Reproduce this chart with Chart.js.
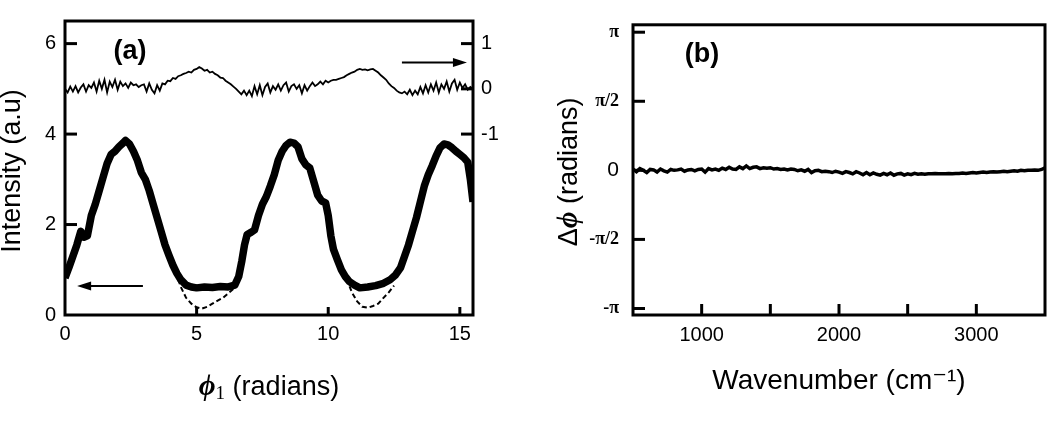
<!DOCTYPE html>
<html>
<head>
<meta charset="utf-8">
<script src="https://cdn.jsdelivr.net/npm/chart.js@4.4.1/dist/chart.umd.min.js"></script>
<style>
  html, body { margin: 0; padding: 0; background: #fff; }
  #wrap { position: relative; width: 1050px; height: 423px; overflow: hidden; background: #fff; }
  #wrap canvas { position: absolute; top: 0; }
  #chartA { left: 0; }
  #chartB { left: 525px; }
</style>
</head>
<body>
<div id="wrap">
  <canvas id="chartA" width="525" height="423"></canvas>
  <canvas id="chartB" width="525" height="423"></canvas>
</div>
<script>
// =========================
// DATA
// =========================

// (a) intensity vs phi1, thick curve
const phiIntensity = [
  0, 0.15, 0.3, 0.45, 0.6, 0.72, 0.85, 1.0, 1.15, 1.3, 1.45, 1.6, 1.75, 1.9, 2.05, 2.2, 2.3, 2.45, 2.6, 2.75,
  2.9, 3.05, 3.2, 3.35, 3.5, 3.65, 3.8, 3.95, 4.1, 4.25, 4.4, 4.6, 4.8, 5.0, 5.3, 5.6, 5.9, 6.2, 6.45, 6.6,
  6.72, 6.82, 6.92, 7.05, 7.2, 7.35, 7.5, 7.65, 7.8, 7.95, 8.1, 8.25, 8.4, 8.55, 8.7, 8.85, 9.0, 9.15, 9.3, 9.45,
  9.6, 9.75, 9.9, 10.0, 10.1, 10.2, 10.35, 10.5, 10.65, 10.8, 11.0, 11.2, 11.5, 11.8, 12.1, 12.35, 12.55, 12.75, 12.9, 13.05,
  13.2, 13.35, 13.5, 13.65, 13.8, 13.95, 14.1, 14.25, 14.4, 14.55, 14.7, 14.85, 15.0, 15.15, 15.3, 15.4, 15.5
];
const intensity = [
  0.82, 1.05, 1.3, 1.55, 1.85, 1.72, 1.75, 2.2, 2.45, 2.75, 3.05, 3.35, 3.55, 3.62, 3.72, 3.8, 3.86, 3.78, 3.62, 3.42,
  3.15, 3.0, 2.75, 2.45, 2.15, 1.85, 1.55, 1.32, 1.1, 0.92, 0.78, 0.66, 0.62, 0.6, 0.62, 0.61, 0.63, 0.62, 0.66, 0.85,
  1.2, 1.55, 1.78, 1.82, 1.88, 2.2, 2.45, 2.62, 2.85, 3.1, 3.42, 3.62, 3.75, 3.82, 3.8, 3.72, 3.45, 3.32, 3.25, 2.95,
  2.65, 2.52, 2.48, 2.2, 1.75, 1.45, 1.22, 1.0, 0.85, 0.74, 0.66, 0.6, 0.62, 0.65, 0.7, 0.78, 0.88, 1.05, 1.3, 1.55,
  1.85, 2.15, 2.5, 2.85, 3.1, 3.3, 3.52, 3.7, 3.78, 3.76, 3.7, 3.62, 3.55, 3.48, 3.38, 3.0, 2.5
];

// (a) dashed curve, only where it leaves the thick one
const phiDashed = [
  4.2, 4.4, 4.6, 4.8, 5.0, 5.2, 5.4, 5.6, 5.8, 6.0, 6.2, 6.4, 6.55, 8.5,
  10.7, 10.9, 11.1, 11.3, 11.5, 11.7, 11.9, 12.1, 12.3, 12.5
];
const intensityDashed = [
  0.95, 0.62, 0.38, 0.25, 0.17, 0.14, 0.18, 0.25, 0.32, 0.38, 0.48, 0.58, 0.72, null,
  0.8, 0.5, 0.3, 0.18, 0.16, 0.2, 0.25, 0.38, 0.5, 0.65
];

// (a) thin trace, right axis
const phiRatio = [
  0, 0.1, 0.2, 0.3, 0.4, 0.5, 0.6, 0.7, 0.8, 0.9,
  1, 1.1, 1.2, 1.3, 1.4, 1.5, 1.6, 1.7, 1.8, 1.9,
  2, 2.1, 2.2, 2.3, 2.4, 2.5, 2.6, 2.7, 2.8, 2.9,
  3, 3.1, 3.2, 3.3, 3.4, 3.5, 3.6, 3.7, 3.8, 3.9,
  4, 4.1, 4.2, 4.3, 4.4, 4.5, 4.6, 4.7, 4.8, 4.9,
  5, 5.1, 5.2, 5.3, 5.4, 5.5, 5.6, 5.7, 5.8, 5.9,
  6, 6.1, 6.2, 6.3, 6.4, 6.5, 6.6, 6.7, 6.8, 6.9,
  7, 7.1, 7.2, 7.3, 7.4, 7.5, 7.6, 7.7, 7.8, 7.9,
  8, 8.1, 8.2, 8.3, 8.4, 8.5, 8.6, 8.7, 8.8, 8.9,
  9, 9.1, 9.2, 9.3, 9.4, 9.5, 9.6, 9.7, 9.8, 9.9,
  10, 10.1, 10.2, 10.3, 10.4, 10.5, 10.6, 10.7, 10.8, 10.9,
  11, 11.1, 11.2, 11.3, 11.4, 11.5, 11.6, 11.7, 11.8, 11.9,
  12, 12.1, 12.2, 12.3, 12.4, 12.5, 12.6, 12.7, 12.8, 12.9,
  13, 13.1, 13.2, 13.3, 13.4, 13.5, 13.6, 13.7, 13.8, 13.9,
  14, 14.1, 14.2, 14.3, 14.4, 14.5, 14.6, 14.7, 14.8, 14.9,
  15, 15.1, 15.2, 15.3, 15.4, 15.5
];
const ratio = [
  0.0, -0.08, 0.05, -0.06, 0.06, -0.08, 0.03, 0.1, -0.06, 0.08,
  0.02, 0.14, -0.06, 0.18, 0.0, 0.2, -0.08, 0.16, 0.04, 0.2,
  -0.02, 0.16, 0.06, 0.12, 0.02, 0.14, 0.08, 0.1, 0.04, 0.08,
  0.1, -0.06, 0.12, -0.02, -0.1, 0.08, -0.04, 0.12, 0.1, 0.18,
  0.17, 0.24, 0.22, 0.28, 0.3, 0.33, 0.35, 0.38, 0.36, 0.42,
  0.44, 0.48, 0.45, 0.4, 0.42, 0.36, 0.38, 0.33, 0.3, 0.25,
  0.24, 0.18, 0.14, 0.1, 0.05, 0.0, -0.06, -0.12, -0.04, -0.14,
  -0.04, -0.16, 0.06, -0.12, 0.08, -0.14, 0.04, 0.12, -0.08, 0.06,
  -0.02, 0.1, -0.04, 0.08, 0.14, -0.06, 0.06, 0.1, 0.0, 0.08,
  -0.1, 0.08, -0.04, 0.06, 0.14, 0.06, 0.1, 0.16, 0.1, 0.18,
  0.14, 0.18, 0.2, 0.2, 0.22, 0.24, 0.26, 0.3, 0.33, 0.36,
  0.38, 0.42, 0.44, 0.42, 0.43, 0.41, 0.43, 0.44, 0.4, 0.36,
  0.3, 0.25, 0.2, 0.12, 0.06, 0.02, -0.04, -0.08, -0.1, -0.06,
  -0.12, -0.02, -0.14, -0.04, -0.12, 0.04, -0.1, 0.08, -0.08, 0.1,
  -0.04, 0.14, -0.08, 0.1, 0.0, 0.16, -0.06, 0.12, 0.2, -0.02,
  0.14, 0.02, 0.1, -0.02, 0.04, 0.0
];

// (b) phase difference vs wavenumber
const wavenumber = [
  500, 525, 550, 575, 600, 625, 650, 675, 700, 725,
  750, 775, 800, 825, 850, 875, 900, 925, 950, 975,
  1000, 1025, 1050, 1075, 1100, 1125, 1150, 1175, 1200, 1225,
  1250, 1275, 1300, 1325, 1350, 1375, 1400, 1425, 1450, 1475,
  1500, 1525, 1550, 1575, 1600, 1625, 1650, 1675, 1700, 1725,
  1750, 1775, 1800, 1825, 1850, 1875, 1900, 1925, 1950, 1975,
  2000, 2025, 2050, 2075, 2100, 2125, 2150, 2175, 2200, 2225,
  2250, 2275, 2300, 2325, 2350, 2375, 2400, 2425, 2450, 2475,
  2500, 2525, 2550, 2575, 2600, 2625, 2650, 2675, 2700, 2725,
  2750, 2775, 2800, 2825, 2850, 2875, 2900, 2925, 2950, 2975,
  3000, 3025, 3050, 3075, 3100, 3125, 3150, 3175, 3200, 3225,
  3250, 3275, 3300, 3325, 3350, 3375, 3400, 3425, 3450, 3475,
  3500
];
const deltaPhi = [
  0.03, -0.03, 0.04, 0.0, -0.05, 0.02, 0.01, -0.04, 0.03, -0.01,
  -0.04, 0.02, 0.0, 0.01, 0.03, -0.02, 0.01, 0.02, -0.01, 0.02,
  0.03, -0.04, 0.04, 0.01, 0.03, 0.0, 0.05, 0.02, 0.07, 0.03,
  0.02, 0.08, 0.04, 0.1, 0.04, 0.07, 0.08, 0.04, 0.06, 0.05,
  0.06, 0.03, 0.04, 0.02, 0.03, 0.01, 0.03, 0.02, -0.01, 0.01,
  -0.02, 0.02, -0.05, -0.01, 0.0, -0.03, -0.02, -0.03, -0.05, -0.02,
  -0.04, -0.07, -0.03, -0.05, -0.08, -0.03, -0.06, -0.1, -0.05, -0.1,
  -0.06, -0.09, -0.11, -0.07, -0.1, -0.06, -0.11, -0.08, -0.07, -0.11,
  -0.08, -0.1, -0.07, -0.09, -0.08, -0.09, -0.08, -0.08, -0.07, -0.08,
  -0.08, -0.08, -0.07, -0.08, -0.07, -0.07, -0.06, -0.07, -0.06, -0.05,
  -0.06, -0.05, -0.04, -0.05, -0.04, -0.03, -0.04, -0.03, -0.02, -0.03,
  -0.02, -0.01, -0.02, 0.0, -0.01, 0.0, 0.0, 0.01, 0.0, 0.02,
  0.06
];

// ticks
const xTicksA = [0, 5, 10, 15];
const yTicksA = [0, 2, 4, 6];
const y2TicksA = [-1, 0, 1];
const xTicksB = [1000, 1500, 2000, 2500, 3000];
const xLabelsB = [1000, 2000, 3000];
const yTicksB = [-Math.PI, -Math.PI / 2, 0, Math.PI / 2, Math.PI];
const yLabelsB = ["-π", "-π/2", "0", "π/2", "π"];

// =========================
// HELPERS
// =========================

const SANS = '"Liberation Sans", Arial, "DejaVu Sans", sans-serif';
const SERIF = '"Liberation Serif", "DejaVu Serif", serif';
const PHI_FONT = "bold italic 29px " + SERIF;
const TITLE_FONT = "27px " + SANS;

Chart.defaults.font.family = SANS;
Chart.defaults.color = "#000";

function pts(xs, ys) {
  return xs.map((x, i) => ({ x, y: ys[i] }));
}

function setTicks(values) {
  return (scale) => {
    scale.ticks = values.map((v) => ({ value: v }));
  };
}

function line(ctx, x1, y1, x2, y2) {
  ctx.beginPath();
  ctx.moveTo(x1, y1);
  ctx.lineTo(x2, y2);
  ctx.stroke();
}

function arrow(ctx, x1, y, x2) {
  const dir = x2 > x1 ? 1 : -1;
  ctx.lineWidth = 2;
  line(ctx, x1, y, x2 - dir * 10, y);
  ctx.beginPath();
  ctx.moveTo(x2, y);
  ctx.lineTo(x2 - dir * 14, y - 4.5);
  ctx.lineTo(x2 - dir * 14, y + 4.5);
  ctx.closePath();
  ctx.fill();
}

// text made of several runs with their own fonts, centred on (0,0) after the transform
function mixedText(ctx, parts) {
  let total = 0;
  parts.forEach((p) => {
    ctx.font = p.font;
    p.w = ctx.measureText(p.t).width;
    total += p.w;
  });
  let x = -total / 2;
  ctx.textAlign = "left";
  ctx.textBaseline = "alphabetic";
  parts.forEach((p) => {
    ctx.font = p.font;
    ctx.fillText(p.t, x, p.dy || 0);
    x += p.w;
  });
}

const noGrid = { display: false, drawTicks: false };
const noBorder = { display: false };

// =========================
// PANEL (a)
// =========================

const panelA = {
  id: "panelA",
  afterDatasetsDraw(chart) {
    const { ctx, chartArea: a } = chart;
    const { x, y, y2 } = chart.scales;
    ctx.save();
    ctx.strokeStyle = "#000";
    ctx.fillStyle = "#000";

    ctx.lineWidth = 3;
    yTicksA.forEach((v) => {
      if (v === 0) return;
      const py = y.getPixelForValue(v);
      line(ctx, a.left, py, a.left + 12, py);
    });
    y2TicksA.forEach((v) => {
      const py = y2.getPixelForValue(v);
      line(ctx, a.right - 12, py, a.right, py);
    });
    xTicksA.forEach((v) => {
      if (v === 0) return;
      const px = x.getPixelForValue(v);
      line(ctx, px, a.bottom, px, a.bottom - 8);
    });
    ctx.strokeRect(a.left, a.top, a.right - a.left, a.bottom - a.top);

    // arrows pointing to each axis
    arrow(ctx, x.getPixelForValue(2.96), y.getPixelForValue(0.64), x.getPixelForValue(0.46));
    arrow(ctx, x.getPixelForValue(12.8), y2.getPixelForValue(0.58), x.getPixelForValue(15.27));

    ctx.font = "bold 27px " + SANS;
    ctx.textAlign = "center";
    ctx.textBaseline = "middle";
    ctx.fillText("(a)", a.left + 65, a.top + 31);

    // y title
    ctx.save();
    ctx.translate(13, 171);
    ctx.rotate(-Math.PI / 2);
    ctx.font = TITLE_FONT;
    ctx.fillText("Intensity (a.u)", 0, 0);
    ctx.restore();

    // x title
    ctx.save();
    ctx.translate((a.left + a.right) / 2, 395);
    mixedText(ctx, [
      { t: "ϕ", font: PHI_FONT },
      { t: "1", font: "19px " + SERIF, dy: 4 },
      { t: " (radians)", font: TITLE_FONT },
    ]);
    ctx.restore();

    ctx.restore();
  },
};

new Chart(document.getElementById("chartA"), {
  type: "line",
  data: {
    datasets: [
      {
        data: pts(phiIntensity, intensity),
        yAxisID: "y",
        borderColor: "#000",
        borderWidth: 7.5,
        borderJoinStyle: "round",
        pointRadius: 0,
      },
      {
        data: pts(phiDashed, intensityDashed),
        yAxisID: "y",
        borderColor: "#000",
        borderWidth: 2,
        borderDash: [5, 3],
        spanGaps: false,
        pointRadius: 0,
      },
      {
        data: pts(phiRatio, ratio),
        yAxisID: "y2",
        borderColor: "#000",
        borderWidth: 1.8,
        pointRadius: 0,
      },
    ],
  },
  options: {
    responsive: false,
    animation: false,
    layout: { padding: { top: 1, left: 0, right: 0, bottom: 0 } },
    plugins: { legend: { display: false }, tooltip: { enabled: false } },
    scales: {
      x: {
        type: "linear",
        min: 0,
        max: 15.5,
        afterBuildTicks: setTicks(xTicksA),
        afterFit: (s) => { s.height = 108; },
        grid: noGrid,
        border: noBorder,
        ticks: { font: { size: 20 }, padding: 7, maxRotation: 0, callback: (v) => String(v) },
      },
      y: {
        position: "left",
        min: 0,
        max: 6.5,
        afterBuildTicks: setTicks(yTicksA),
        afterFit: (s) => { s.width = 65; },
        grid: noGrid,
        border: noBorder,
        ticks: { font: { size: 20 }, padding: 9, callback: (v) => String(v) },
      },
      y2: {
        position: "right",
        min: -5,
        max: 1.5,
        afterBuildTicks: setTicks(y2TicksA),
        afterFit: (s) => { s.width = 52; },
        grid: noGrid,
        border: noBorder,
        ticks: { font: { size: 20 }, padding: 8, callback: (v) => String(v) },
      },
    },
  },
  plugins: [panelA],
});

// =========================
// PANEL (b)
// =========================

const panelB = {
  id: "panelB",
  afterDatasetsDraw(chart) {
    const { ctx, chartArea: a } = chart;
    const { x, y } = chart.scales;
    ctx.save();
    ctx.strokeStyle = "#000";
    ctx.fillStyle = "#000";

    ctx.lineWidth = 3;
    yTicksB.forEach((v) => {
      const py = y.getPixelForValue(v);
      line(ctx, a.left, py, a.left + 12, py);
    });
    xTicksB.forEach((v) => {
      const px = x.getPixelForValue(v);
      line(ctx, px, a.bottom, px, a.bottom - 11);
    });
    ctx.strokeRect(a.left, a.top, a.right - a.left, a.bottom - a.top);

    ctx.font = "bold 27px " + SANS;
    ctx.textAlign = "center";
    ctx.textBaseline = "middle";
    ctx.fillText("(b)", a.left + 69, a.top + 30);

    // y title
    ctx.save();
    ctx.translate(52, (a.top + a.bottom) / 2 + 2);
    ctx.rotate(-Math.PI / 2);
    mixedText(ctx, [
      { t: "Δ", font: TITLE_FONT },
      { t: "ϕ", font: PHI_FONT },
      { t: " (radians)", font: TITLE_FONT },
    ]);
    ctx.restore();

    ctx.restore();
  },
};

new Chart(document.getElementById("chartB"), {
  type: "line",
  data: {
    datasets: [
      {
        data: pts(wavenumber, deltaPhi),
        borderColor: "#000",
        borderWidth: 3.5,
        pointRadius: 0,
      },
    ],
  },
  options: {
    responsive: false,
    animation: false,
    layout: { padding: { top: 2, left: 0, right: 5, bottom: 0 } },
    plugins: { legend: { display: false }, tooltip: { enabled: false } },
    scales: {
      x: {
        type: "linear",
        min: 500,
        max: 3500,
        afterBuildTicks: setTicks(xLabelsB),
        afterFit: (s) => { s.height = 108; },
        grid: noGrid,
        border: noBorder,
        ticks: { font: { size: 20 }, padding: 8, maxRotation: 0, callback: (v) => String(v) },
        title: {
          display: true,
          text: "Wavenumber (cm⁻¹)",
          font: { size: 28 },
          padding: { top: 0, bottom: 25 },
        },
      },
      y: {
        position: "left",
        min: -3.29,
        max: 3.31,
        afterBuildTicks: setTicks(yTicksB),
        afterFit: (s) => { s.width = 108; },
        grid: noGrid,
        border: noBorder,
        ticks: {
          padding: 14,
          callback: (v, i) => yLabelsB[i],
          font: (c) =>
            c.index === 2
              ? { family: SANS, size: 21 }
              : { family: SERIF, size: 18, weight: "bold" },
        },
      },
    },
  },
  plugins: [panelB],
});
</script>
</body>
</html>
